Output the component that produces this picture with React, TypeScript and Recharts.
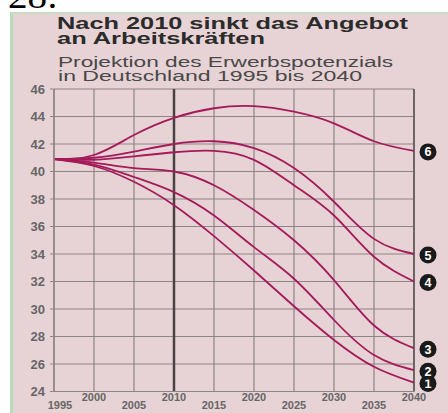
import { LineChart, Line, XAxis, YAxis, CartesianGrid, ReferenceLine } from "recharts";

const years = [1995, 2000, 2005, 2010, 2015, 2020, 2025, 2030, 2035, 2040];
const s1 = [40.9, 40.4, 39.25, 37.55, 35.3, 32.8, 30.2, 27.75, 25.8, 24.65];
const s2 = [40.9, 40.5, 39.6, 38.5, 36.8, 34.5, 32.2, 29.2, 26.65, 25.55];
const s3 = [40.9, 40.65, 40.25, 40.0, 39.0, 37.2, 35.0, 32.1, 28.8, 27.15];
const s4 = [40.9, 40.85, 41.1, 41.4, 41.5, 40.85, 39.0, 36.8, 33.8, 32.0];
const s5 = [40.9, 41.0, 41.45, 42.0, 42.2, 41.7, 40.25, 37.8, 35.1, 34.0];
const s6 = [40.9, 41.2, 42.65, 43.9, 44.6, 44.75, 44.35, 43.5, 42.2, 41.5];
const series = [
  { key: "s1", label: "1", values: s1 },
  { key: "s2", label: "2", values: s2 },
  { key: "s3", label: "3", values: s3 },
  { key: "s4", label: "4", values: s4 },
  { key: "s5", label: "5", values: s5 },
  { key: "s6", label: "6", values: s6 },
];
const yTicks = [24, 26, 28, 30, 32, 34, 36, 38, 40, 42, 44, 46];
const xTicks = [1995, 2000, 2005, 2010, 2015, 2020, 2025, 2030, 2035, 2040];

const data = years.map((year, i) => {
  const row: Record<string, number> = { year };
  series.forEach((s) => (row[s.key] = s.values[i]));
  return row;
});

const LINE = "#a51a5a";
const GRID = "#8f8486";
const TICK = "#666";
const FONT = "'Liberation Sans', Arial, sans-serif";

function YTick({ x, y, payload }: any) {
  return (
    <text x={x - 3} y={y + 4.5} textAnchor="end" fontFamily={FONT} fontWeight="bold" fontSize={13} fill={TICK}>
      {payload.value}
    </text>
  );
}

// Jahreszahlen in zwei Reihen: gerade Jahrzehnte oben, Halbjahrzehnte unten
function XTick({ x, y, payload }: any) {
  const even = payload.value % 10 === 0;
  const dx = payload.value === 1995 ? 6 : 0;
  return (
    <text x={x + dx} y={even ? y + 1 : y + 9.5} textAnchor="middle" fontFamily={FONT} fontWeight="bold" fontSize={11} fill={TICK}>
      {payload.value}
    </text>
  );
}

function EndBadge(label: string, last: number) {
  return (props: any) => {
    const { x, y, index } = props;
    if (index !== last) return null;
    return (
      <g>
        <circle cx={x + 14} cy={y + 1} r={8.5} fill="#1a1a1a" />
        <text x={x + 14} y={y + 5.5} textAnchor="middle" fontFamily={FONT} fontWeight="bold" fontSize={12.5} fill="#fff">
          {label}
        </text>
      </g>
    );
  };
}

export default function App() {
  return (
    <div style={{ position: "absolute", left: 0, top: 0, width: 448, height: 413, background: "#fff", overflow: "hidden" }}>
      <div
        style={{
          position: "absolute",
          left: 10,
          top: 12,
          right: 0,
          bottom: 0,
          background: "#e7d3d5",
          borderLeft: "3px solid #b8dcb8",
          borderTop: "2px solid #c4ddc4",
        }}
      />
      <svg width={448} height={90} style={{ position: "absolute", left: 0, top: 0 }}>
        <text x={8} y={8} fontFamily="'Liberation Serif', serif" fontSize={36} fill="#000" textLength={50} lengthAdjust="spacingAndGlyphs">
          28:
        </text>
        <text x={57} y={29} fontFamily={FONT} fontWeight="bold" fontSize={17} fill="#2b2b2b" textLength={351} lengthAdjust="spacingAndGlyphs">
          Nach 2010 sinkt das Angebot
        </text>
        <text x={57} y={44} fontFamily={FONT} fontWeight="bold" fontSize={17} fill="#2b2b2b" textLength={208} lengthAdjust="spacingAndGlyphs">
          an Arbeitskräften
        </text>
        <text x={58} y={67} fontFamily={FONT} fontSize={14} fill="#484848" textLength={335} lengthAdjust="spacingAndGlyphs">
          Projektion des Erwerbspotenzials
        </text>
        <text x={58} y={81} fontFamily={FONT} fontSize={14} fill="#484848" textLength={304} lengthAdjust="spacingAndGlyphs">
          in Deutschland 1995 bis 2040
        </text>
      </svg>
      <div style={{ position: "absolute", left: 0, top: 0 }}>
        <LineChart width={448} height={413} data={data} margin={{ top: 89, right: 34, left: 0, bottom: 0 }}>
          <CartesianGrid stroke={GRID} strokeWidth={1.2} />
          <XAxis
            dataKey="year"
            type="number"
            domain={[1995, 2040]}
            ticks={xTicks}
            height={21.5}
            tick={<XTick />}
            tickLine={false}
            axisLine={{ stroke: GRID }}
          />
          <YAxis
            domain={[24, 46]}
            ticks={yTicks}
            width={54}
            tick={<YTick />}
            tickLine={{ stroke: GRID }}
            tickSize={4}
            axisLine={{ stroke: GRID, strokeWidth: 1.5 }}
          />
          <ReferenceLine x={2010} stroke="#4a4244" strokeWidth={2.5} />
          <ReferenceLine x={2040} stroke="#6d6466" strokeWidth={2} />
          {series.map((s) => (
            <Line
              key={s.key}
              dataKey={s.key}
              type="natural"
              stroke={LINE}
              strokeWidth={1.8}
              dot={false}
              isAnimationActive={false}
              label={EndBadge(s.label, years.length - 1)}
            />
          ))}
        </LineChart>
      </div>
    </div>
  );
}
